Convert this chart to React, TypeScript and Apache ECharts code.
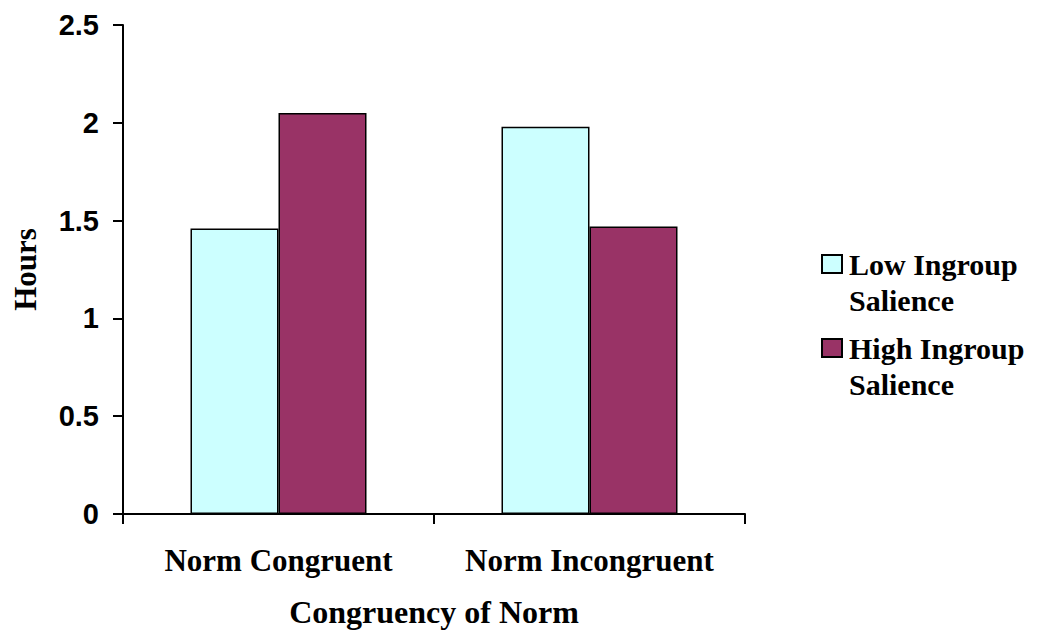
import React, { useEffect, useRef } from "react";
import * as echarts from "echarts";

const categories = ["Norm Congruent", "Norm Incongruent"];
const seriesNames = ["Low Ingroup\nSalience", "High Ingroup\nSalience"];
const lowIngroup = [1.46, 1.98];
const highIngroup = [2.05, 1.47];
const seriesColors = ["#CCFFFF", "#993366"];
const yTicks = { min: 0, max: 2.5, interval: 0.5 };

export default function App() {
  const ref = useRef<HTMLDivElement>(null);
  useEffect(() => {
    document.body.style.margin = "0";
    const chart = echarts.init(ref.current!, undefined, { renderer: "svg" });
    const serif = "'Liberation Serif', 'Times New Roman', serif";
    const sans = "'Liberation Sans', Arial, sans-serif";
    const legendTop = [246, 330];
    chart.setOption({
      animation: false,
      backgroundColor: "#ffffff",
      grid: { left: 123, right: 306, top: 25, bottom: 124 },
      xAxis: {
        type: "category",
        data: categories,
        name: "Congruency of Norm",
        nameLocation: "middle",
        nameGap: 82,
        nameTextStyle: { fontFamily: serif, fontWeight: "bold", fontSize: 32, color: "#000" },
        axisLine: { lineStyle: { color: "#000", width: 2 } },
        axisTick: { show: true, length: 10, lineStyle: { color: "#000", width: 2 } },
        axisLabel: { interval: 0, margin: 31, fontFamily: serif, fontWeight: "bold", fontSize: 31, color: "#000" },
      },
      yAxis: {
        type: "value",
        min: yTicks.min,
        max: yTicks.max,
        interval: yTicks.interval,
        name: "Hours",
        nameLocation: "middle",
        nameGap: 82,
        nameTextStyle: { fontFamily: serif, fontWeight: "bold", fontSize: 31, color: "#000" },
        axisLine: { show: true, lineStyle: { color: "#000", width: 2 } },
        axisTick: { show: true, length: 10, lineStyle: { color: "#000", width: 2 } },
        splitLine: { show: false },
        axisLabel: { margin: 24, fontFamily: sans, fontWeight: "bold", fontSize: 29, color: "#000" },
      },
      series: [
        {
          type: "bar",
          name: seriesNames[0],
          data: lowIngroup,
          barWidth: 88,
          barGap: "0%",
          itemStyle: { color: seriesColors[0], borderColor: "#000", borderWidth: 1.5 },
        },
        {
          type: "bar",
          name: seriesNames[1],
          data: highIngroup,
          barWidth: 88,
          barGap: "0%",
          itemStyle: { color: seriesColors[1], borderColor: "#000", borderWidth: 1.5 },
        },
      ],
      graphic: seriesNames.flatMap((n, i) => [
        {
          type: "rect",
          shape: { x: 822, y: legendTop[i] + 9, width: 20, height: 18 },
          style: { fill: seriesColors[i], stroke: "#000", lineWidth: 2 },
        },
        {
          type: "text",
          x: 849,
          y: legendTop[i],
          style: {
            text: n,
            fontFamily: serif,
            fontWeight: "bold",
            fontSize: 30,
            lineHeight: 36,
            fill: "#000",
            verticalAlign: "top",
            align: "left",
          },
        },
      ]),
    });
    return () => chart.dispose();
  }, []);
  return <div ref={ref} style={{ width: 1051, height: 638 }} />;
}
